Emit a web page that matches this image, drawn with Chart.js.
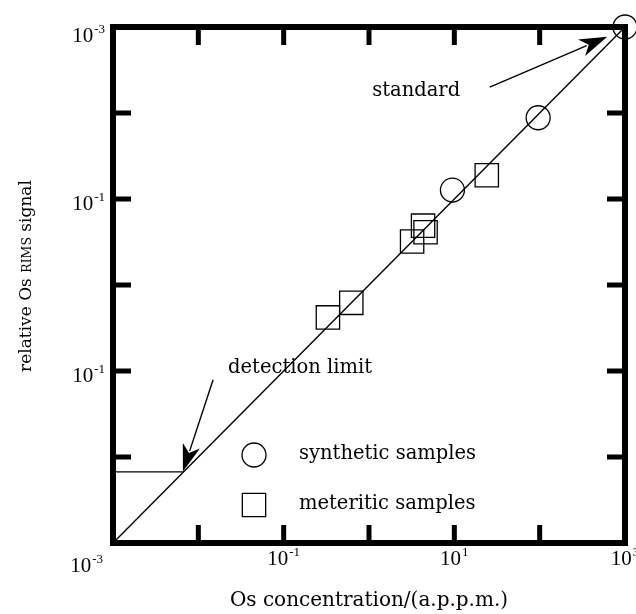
<!DOCTYPE html>
<html>
<head>
<meta charset="utf-8">
<script src="https://cdn.jsdelivr.net/npm/chart.js@4.4.1/dist/chart.umd.min.js"></script>
<style>
  html, body { margin: 0; padding: 0; background: #fff; overflow: hidden; }
  canvas { display: block; }
</style>
</head>
<body>
<canvas id="chart" width="636" height="614"></canvas>
<script>
// values (x: Os concentration, y: relative signal)
const syntheticConc = [9.5, 96, 1000];
const syntheticSignal = [0.0127, 0.088, 1.0];
const meteoriticConc = [0.33, 0.62, 3.2, 4.3, 4.6, 24];
const meteoriticSignal = [4.2e-4, 6.2e-4, 3.2e-3, 4.9e-3, 4.1e-3, 0.0189];
const fitConc = [1e-3, 1e3];
const fitSignal = [1e-6, 1];
const limitConc = [1e-3, 6.6e-3];
const limitSignal = [6.7e-6, 6.7e-6];

// tick positions and the labels as printed
const xTicks = [1e-3, 1e-2, 1e-1, 1, 10, 100, 1e3];
const xTickLabels = [['10', '-3'], null, ['10', '-1'], null, ['10', '1'], null, ['10', '3']];
const yTicks = [1, 1e-1, 1e-2, 1e-3, 1e-4, 1e-5, 1e-6];
const yTickLabels = [['10', '-3'], null, ['10', '-1'], null, ['10', '-1'], null, null];

// annotations, in data coordinates
const standardArrow = { from: [26, 0.2], to: [620, 0.77] };
const limitArrow = { from: [0.0149, 7.9e-5], to: [0.0066, 6.8e-6] };
const standardText = { text: 'standard', at: [1.09, 0.158] };
const limitText = { text: 'detection limit', at: [0.0223, 9.5e-5] };

const textFont = '19.5px "DejaVu Serif", serif';
const numFont = '21px "Liberation Serif", serif';
const supFont = '13px "Liberation Serif", serif';

function toPx(chart, p) {
  return [chart.scales.x.getPixelForValue(p[0]), chart.scales.y.getPixelForValue(p[1])];
}

function drawArrow(ctx, a, b, headLen, headW) {
  const ang = Math.atan2(b[1] - a[1], b[0] - a[0]);
  ctx.beginPath();
  ctx.moveTo(a[0], a[1]);
  ctx.lineTo(b[0] - Math.cos(ang) * headLen * 0.8, b[1] - Math.sin(ang) * headLen * 0.8);
  ctx.stroke();
  ctx.beginPath();
  ctx.moveTo(b[0], b[1]);
  ctx.lineTo(b[0] - Math.cos(ang) * headLen - Math.sin(ang) * headW,
             b[1] - Math.sin(ang) * headLen + Math.cos(ang) * headW);
  ctx.lineTo(b[0] - Math.cos(ang) * headLen * 0.72, b[1] - Math.sin(ang) * headLen * 0.72);
  ctx.lineTo(b[0] - Math.cos(ang) * headLen + Math.sin(ang) * headW,
             b[1] - Math.sin(ang) * headLen - Math.cos(ang) * headW);
  ctx.closePath();
  ctx.fill();
}

function drawPower(ctx, label, x, y, align) {
  ctx.font = numFont;
  const w1 = ctx.measureText(label[0]).width;
  ctx.font = supFont;
  const w2 = ctx.measureText(label[1]).width;
  const total = w1 + 1 + w2;
  let left = x - total / 2;
  if (align === 'right') left = x - total;
  ctx.textAlign = 'left';
  ctx.textBaseline = 'alphabetic';
  ctx.font = numFont;
  ctx.fillText(label[0], left, y);
  ctx.font = supFont;
  ctx.fillText(label[1], left + w1 + 1, y - 9);
}

const framePlugin = {
  id: 'frame',
  afterDraw(chart) {
    const ctx = chart.ctx;
    const area = chart.chartArea;
    const xs = chart.scales.x, ys = chart.scales.y;
    ctx.save();
    ctx.fillStyle = '#000';
    ctx.strokeStyle = '#000';

    // heavy frame
    ctx.lineWidth = 6;
    ctx.strokeRect(area.left, area.top, area.right - area.left, area.bottom - area.top);

    // inward ticks on all sides
    ctx.lineWidth = 5;
    const tl = 18;
    xTicks.slice(1, -1).forEach(v => {
      const px = xs.getPixelForValue(v);
      ctx.beginPath();
      ctx.moveTo(px, area.top); ctx.lineTo(px, area.top + tl);
      ctx.moveTo(px, area.bottom); ctx.lineTo(px, area.bottom - tl);
      ctx.stroke();
    });
    yTicks.slice(1, -1).forEach(v => {
      const py = ys.getPixelForValue(v);
      ctx.beginPath();
      ctx.moveTo(area.left, py); ctx.lineTo(area.left + tl, py);
      ctx.moveTo(area.right, py); ctx.lineTo(area.right - tl, py);
      ctx.stroke();
    });

    // tick labels
    xTicks.forEach((v, i) => {
      const lab = xTickLabels[i];
      if (!lab) return;
      const px = xs.getPixelForValue(v);
      if (i === 0) drawPower(ctx, lab, px - 10, area.bottom + 29, 'right');
      else drawPower(ctx, lab, px, area.bottom + 22, 'center');
    });
    yTicks.forEach((v, i) => {
      const lab = yTickLabels[i];
      if (!lab) return;
      const py = ys.getPixelForValue(v);
      drawPower(ctx, lab, area.left - 8, py + (i === 0 ? 15 : 11), 'right');
    });

    // arrows
    ctx.lineWidth = 1.4;
    drawArrow(ctx, toPx(chart, standardArrow.from), toPx(chart, standardArrow.to), 28, 9);
    drawArrow(ctx, toPx(chart, limitArrow.from), toPx(chart, limitArrow.to), 27, 9);

    // annotation text
    ctx.font = textFont;
    ctx.textAlign = 'left';
    ctx.textBaseline = 'alphabetic';
    let p = toPx(chart, standardText.at);
    ctx.fillText(standardText.text, p[0], p[1]);
    p = toPx(chart, limitText.at);
    ctx.fillText(limitText.text, p[0], p[1]);

    // legend
    const sets = chart.data.datasets;
    const lx = area.left + 141;
    [[sets[2], 455], [sets[3], 505]].forEach(([ds, ly]) => {
      ctx.lineWidth = 1.3;
      ctx.beginPath();
      if (ds.pointStyle === 'circle') {
        ctx.arc(lx, ly, ds.pointRadius, 0, Math.PI * 2);
      } else {
        const s = ds.pointRadius * Math.SQRT1_2;
        ctx.rect(lx - s, ly - s, 2 * s, 2 * s);
      }
      ctx.stroke();
      ctx.font = textFont;
      ctx.fillText(ds.label, lx + 45, ly + 4);
    });

    // axis titles
    ctx.textAlign = 'center';
    ctx.font = '20px "DejaVu Serif", serif';
    ctx.fillText('Os concentration/(a.p.p.m.)', (area.left + area.right) / 2, 606);

    ctx.translate(31, 276);
    ctx.rotate(-Math.PI / 2);
    const parts = [['relative Os ', '17px "DejaVu Serif", serif'], ['RIMS', '12.5px "DejaVu Serif", serif'], [' signal', '17px "DejaVu Serif", serif']];
    let tw = 0;
    parts.forEach(pt => { ctx.font = pt[1]; tw += ctx.measureText(pt[0]).width; });
    let cx = -tw / 2;
    ctx.textAlign = 'left';
    parts.forEach(pt => { ctx.font = pt[1]; ctx.fillText(pt[0], cx, 0); cx += ctx.measureText(pt[0]).width; });
    ctx.restore();
  }
};

new Chart(document.getElementById('chart'), {
  type: 'scatter',
  data: {
    datasets: [
      {
        label: 'fit',
        data: fitConc.map((x, i) => ({ x, y: fitSignal[i] })),
        showLine: true, borderColor: '#000', borderWidth: 1.4, pointRadius: 0
      },
      {
        label: 'limit',
        data: limitConc.map((x, i) => ({ x, y: limitSignal[i] })),
        showLine: true, borderColor: '#000', borderWidth: 1.2, pointRadius: 0
      },
      {
        label: 'synthetic samples',
        data: syntheticConc.map((x, i) => ({ x, y: syntheticSignal[i] })),
        pointStyle: 'circle', pointRadius: 12, borderColor: '#000',
        backgroundColor: 'rgba(0,0,0,0)', borderWidth: 1.3, clip: false
      },
      {
        label: 'meteritic samples',
        data: meteoriticConc.map((x, i) => ({ x, y: meteoriticSignal[i] })),
        pointStyle: 'rect', pointRadius: 16.5, borderColor: '#000',
        backgroundColor: 'rgba(0,0,0,0)', borderWidth: 1.3, clip: false
      }
    ]
  },
  options: {
    responsive: false,
    animation: false,
    layout: { autoPadding: false, padding: { left: 113, right: 11, top: 27, bottom: 71 } },
    plugins: { legend: { display: false }, tooltip: { enabled: false } },
    scales: {
      x: { type: 'logarithmic', min: 1e-3, max: 1e3, display: false },
      y: { type: 'logarithmic', min: 1e-6, max: 1, display: false }
    }
  },
  plugins: [framePlugin]
});
</script>
</body>
</html>
